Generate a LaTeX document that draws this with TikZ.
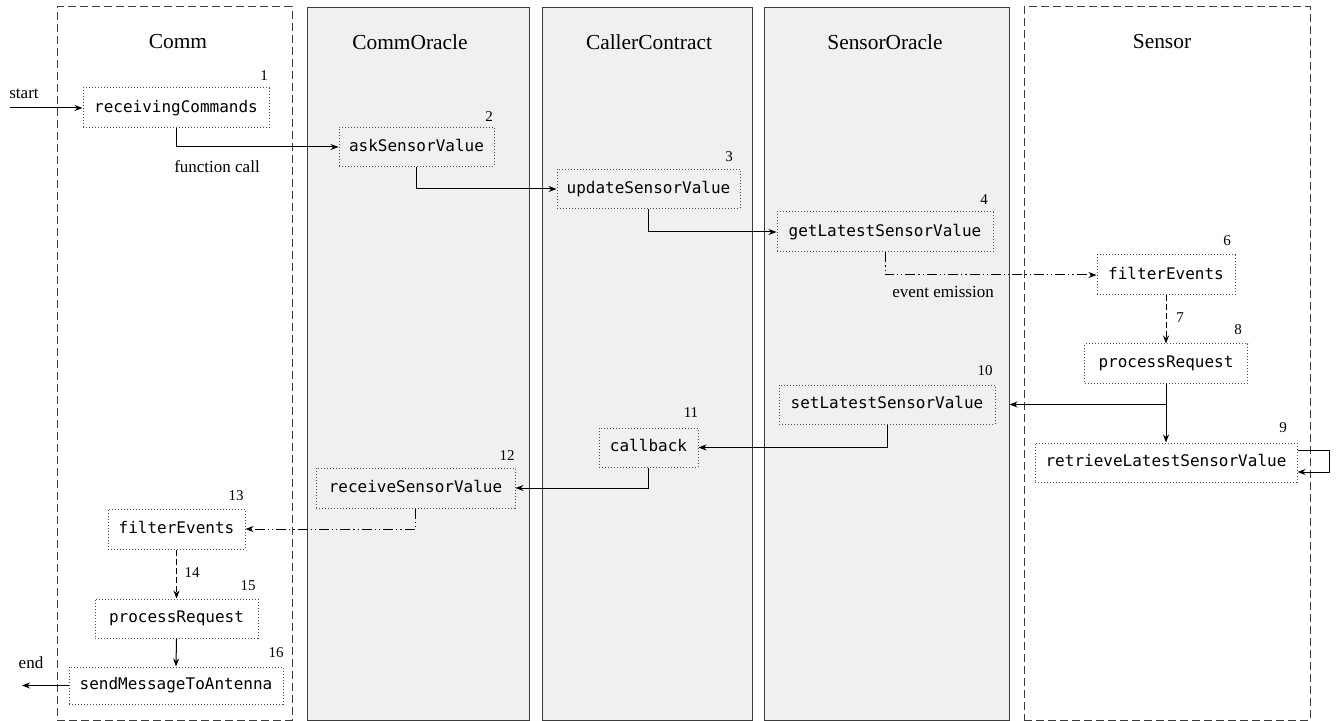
\documentclass[tikz,border=0pt]{standalone}
\usepackage{fontspec}
\setmainfont{Liberation Serif}
\setmonofont{DejaVu Sans Mono}
\usetikzlibrary{arrows.meta}
\definecolor{lanefill}{HTML}{F0F0F0}
\definecolor{laneline}{HTML}{3C3C3C}
\definecolor{boxline}{HTML}{505050}
\tikzset{
  lanesolid/.style={draw=laneline, fill=lanefill, line width=0.5pt, minimum height=356pt, inner sep=0pt},
  lanedash/.style={draw=laneline, dash pattern=on 4pt off 2pt, line width=0.5pt, minimum height=356.5pt, inner sep=0pt},
  lanetitle/.style={font=\fontsize{10.7}{12}\selectfont, inner sep=0pt},
  fn/.style={draw=boxline, densely dotted, line width=0.5pt, minimum height=19.5pt, inner sep=0pt,
    text height=6pt, text depth=1.6pt, font=\fontsize{8}{10}\ttfamily},
  num/.style={font=\fontsize{7.5}{9}\selectfont, inner sep=0pt},
  lbl/.style={font=\fontsize{8.5}{10}\selectfont, inner sep=0pt},
  call/.style={-{Stealth[length=4pt,width=3pt]}, line width=0.5pt},
  emit/.style={call, dash pattern=on 5pt off 1.5pt on 0.6pt off 1.5pt on 0.6pt off 1.5pt},
  intern/.style={call, dash pattern=on 3pt off 1.5pt}
}
\begin{document}
\begin{tikzpicture}[x=0.5pt, y=-0.5pt]
  \useasboundingbox (0,0) rectangle (1337,721);
  % swim lanes
  \node[lanedash, minimum width=117.5pt] (laneComm) at (174.5,363.5) {};
  \node[lanesolid, minimum width=111pt] (laneCO) at (418,364) {};
  \node[lanesolid, minimum width=105pt] (laneCC) at (647,364) {};
  \node[lanesolid, minimum width=122.5pt] (laneSO) at (886.5,364) {};
  \node[lanedash, minimum width=143pt] (laneSensor) at (1167,363.5) {};
  \node[lanetitle] (tComm) at (178,42) {Comm};
  \node[lanetitle] (tCO) at (410,42) {CommOracle};
  \node[lanetitle] (tCC) at (649,42) {CallerContract};
  \node[lanetitle] (tSO) at (885,42) {SensorOracle};
  \node[lanetitle] (tSensor) at (1162,42) {Sensor};
  % functions
  \node[fn, minimum width=93pt, minimum height=20pt] (recvCmd) at (176,108) {receivingCommands};
  \node[fn, minimum width=77.5pt] (askVal) at (416.5,147) {askSensorValue};
  \node[fn, minimum width=91.5pt] (updVal) at (648.5,189) {updateSensorValue};
  \node[fn, minimum width=108pt, minimum height=20pt] (getVal) at (885,232) {getLatestSensorValue};
  \node[fn, minimum width=69pt, minimum height=20pt] (filtS) at (1166,275) {filterEvents};
  \node[fn, minimum width=81.5pt] (procS) at (1166,363.5) {processRequest};
  \node[fn, minimum width=108pt] (setVal) at (887,404.5) {setLatestSensorValue};
  \node[fn, minimum width=131pt] (retrVal) at (1166,462.5) {retrieveLatestSensorValue};
  \node[fn, minimum width=49.5pt] (cback) at (648.5,447.5) {callback};
  \node[fn, minimum width=99.5pt, minimum height=20pt] (recvVal) at (415.5,488) {receiveSensorValue};
  \node[fn, minimum width=68.5pt, minimum height=20pt] (filtC) at (176.5,529) {filterEvents};
  \node[fn, minimum width=81.5pt] (procC) at (176.5,618.5) {processRequest};
  \node[fn, minimum width=107pt, minimum height=18.5pt] (sendMsg) at (176,685.5) {sendMessageToAntenna};
  % step numbers
  \node[num] (n1) at (264,76) {1};
  \node[num] (n2) at (489,117) {2};
  \node[num] (n3) at (729,157) {3};
  \node[num] (n4) at (984,200) {4};
  \node[num] (n6) at (1227,241) {6};
  \node[num] (n7) at (1180,318) {7};
  \node[num] (n8) at (1238,330) {8};
  \node[num] (n9) at (1283,428) {9};
  \node[num] (n10) at (985,371) {10};
  \node[num] (n11) at (691,413) {11};
  \node[num] (n12) at (507,456) {12};
  \node[num] (n13) at (236,496) {13};
  \node[num] (n14) at (192,573) {14};
  \node[num] (n15) at (248,586) {15};
  \node[num] (n16) at (276,653) {16};
  % labels
  \node[lbl] (lStart) at (24,94) {start};
  \node[lbl] (lEnd) at (31,663) {end};
  \node[lbl] (lCall) at (217,167) {function call};
  \node[lbl] (lEmit) at (943,292) {event emission};
  % connectors
  \coordinate (startPt) at (10,108);
  \coordinate (endPt) at (22,685.5);
  \coordinate (soEdge) at (laneSO.east |- setVal.east);
  \draw[call] (startPt) -- (recvCmd.west);
  \draw[call] (recvCmd.south) |- (askVal.west);
  \draw[call] (askVal.south) |- (updVal.west);
  \draw[call] (updVal.south) |- (getVal.west);
  \draw[emit] (getVal.south) |- (filtS.west);
  \draw[intern] (filtS.south) -- (procS.north);
  \draw[call] (procS.south) |- (soEdge);
  \draw[call] (procS.south) -- (retrVal.north);
  \draw[call] ([yshift=6.25pt]retrVal.east) -- ++(16pt,0) |- ([yshift=-4.75pt]retrVal.east);
  \draw[call] (setVal.south) |- (cback.east);
  \draw[call] (cback.south) |- (recvVal.east);
  \draw[emit] (recvVal.south) |- (filtC.east);
  \draw[intern] (filtC.south) -- (procC.north);
  \draw[call] (procC.south) -- (sendMsg.north);
  \draw[call] (sendMsg.west) -- (endPt);
\end{tikzpicture}
\end{document}
